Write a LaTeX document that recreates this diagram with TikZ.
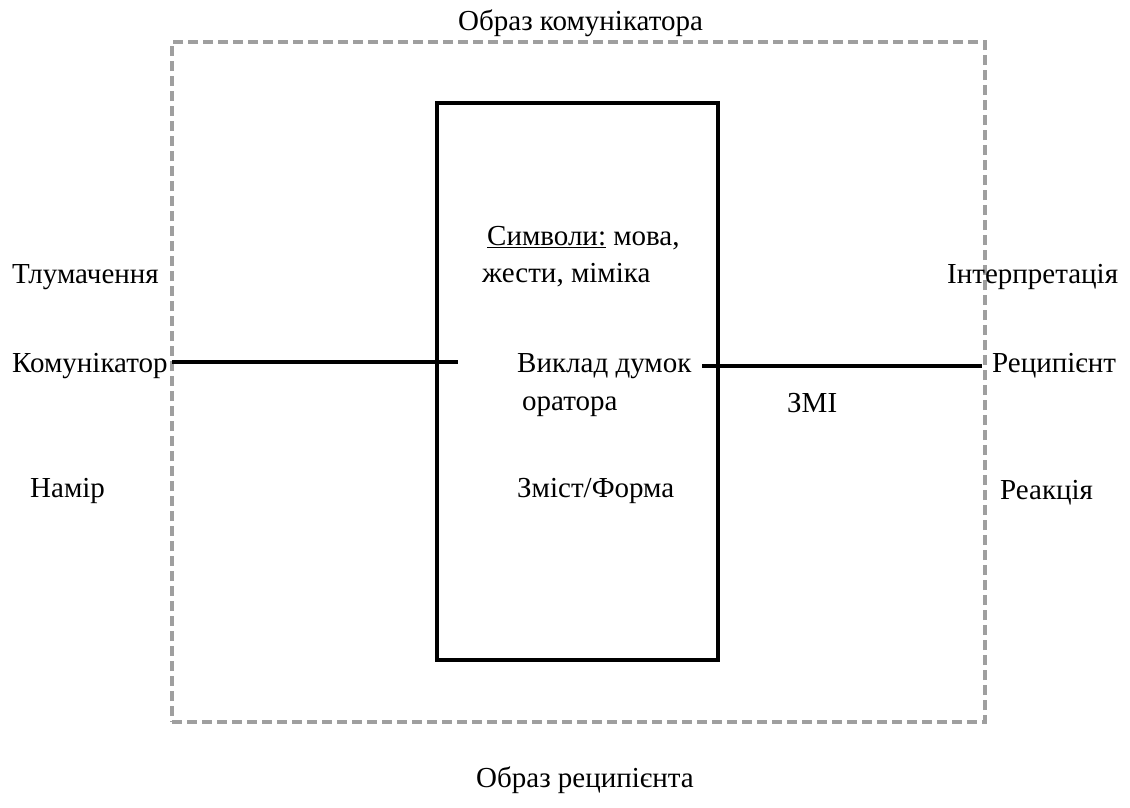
\documentclass[tikz,border=0pt]{standalone}
\usepackage{fontspec}
\setmainfont{Liberation Serif}
\newfontfamily\timesfont{Liberation Serif}
\begin{document}
\begin{tikzpicture}[x=1pt,y=-1pt,
  lbl/.style={anchor=base west,inner sep=0pt,font=\timesfont\fontsize{29}{34}\selectfont},
  outerbox/.style={draw=gray!75,line width=3.5pt,dash pattern=on 10pt off 5pt,minimum width=813pt,minimum height=680pt,inner sep=0pt},
  innerbox/.style={draw=black,line width=4pt,minimum width=281pt,minimum height=557pt,inner sep=0pt},
  link/.style={draw=black,line width=4pt}]
\useasboundingbox (0,0) rectangle (1130,807);
\node[outerbox] (outer) at (578.5,382) {};
\node[innerbox] (inner) at (577.5,381.5) {};
\node[lbl] (obk) at (458,30) {Образ комунікатора};
\node[lbl] (tl) at (12,283) {Тлумачення};
\node[lbl] (kom) at (12,372) {Комунікатор};
\node[lbl] (nam) at (30,497) {Намір};
\node[lbl] (sym) at (487,245) {\underline{Символи:} мова,};
\node[lbl] (zhe) at (482,282) {жести, міміка};
\node[lbl] (vyk) at (517,372) {Виклад думок};
\node[lbl] (ora) at (522,410) {оратора};
\node[lbl] (zm) at (517,497) {Зміст/Форма};
\node[lbl] (int) at (947,283) {Інтерпретація};
\node[lbl] (rec) at (992,372) {Реципієнт};
\node[lbl] (zmi) at (787,412) {ЗМІ};
\node[lbl] (rea) at (1000,499) {Реакція};
\node[lbl] (obr) at (476,787) {Образ реципієнта};
\coordinate (la) at (172,362);
\coordinate (lb) at (458,362);
\coordinate (ra) at (702,366);
\coordinate (rb) at (982,366);
\draw[link] (la) -- (lb);
\draw[link] (ra) -- (rb);
\end{tikzpicture}
\end{document}
